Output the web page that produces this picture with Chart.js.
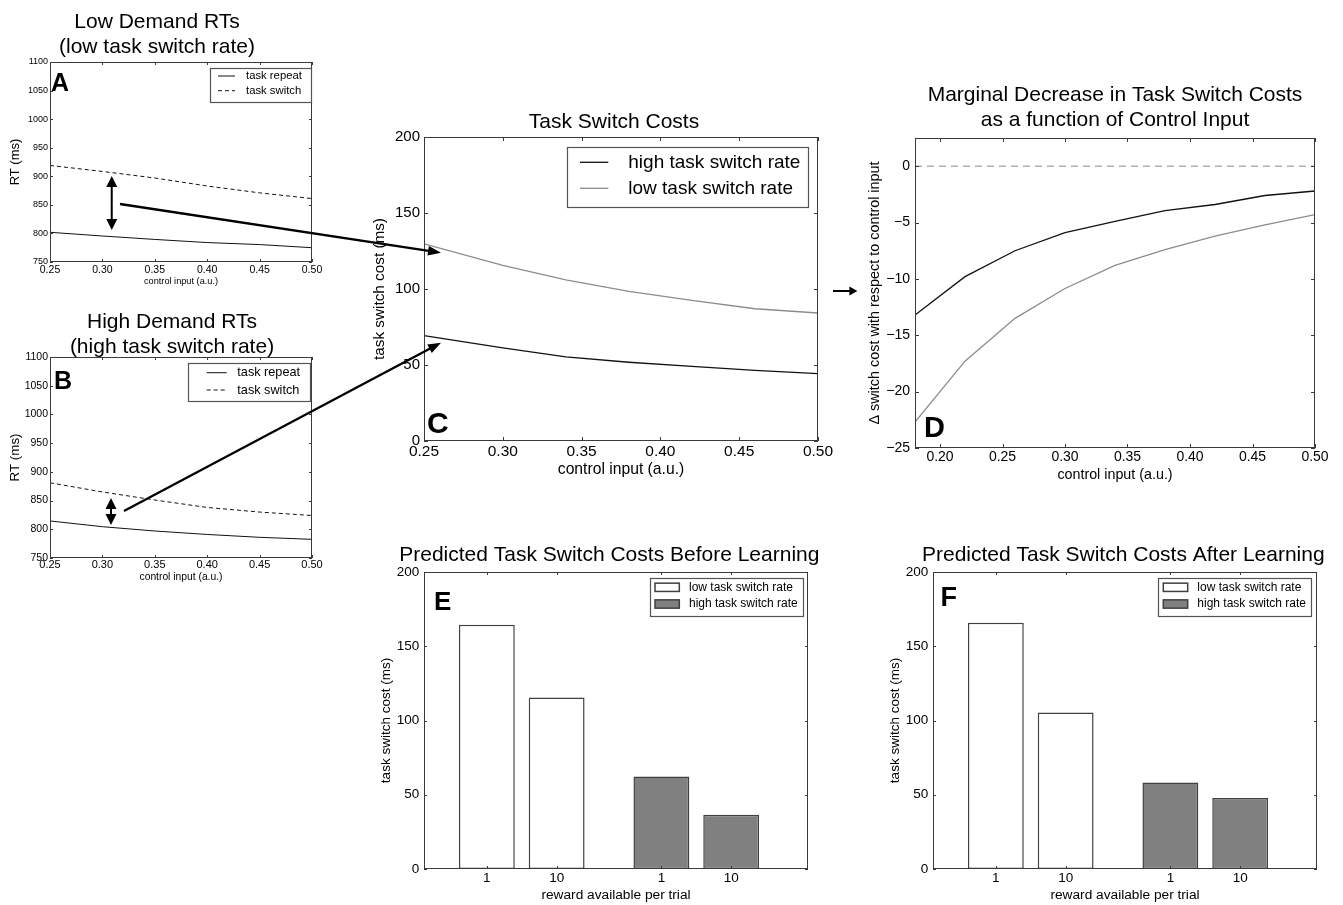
<!DOCTYPE html>
<html>
<head>
<meta charset="utf-8">
<title>Task switch costs</title>
<script src="https://cdn.jsdelivr.net/npm/chart.js@4.4.1/dist/chart.umd.min.js"></script>
<style>
  html, body { margin: 0; padding: 0; background: #fff; }
  #fig { position: relative; width: 1343px; height: 905px; overflow: hidden; background: #fff; }
  #fig canvas { position: absolute; }
</style>
</head>
<body>
<div id="fig"></div>
<script>
// ---------------- data ----------------
const rtControlInput   = [0.25, 0.30, 0.35, 0.40, 0.45, 0.50];
const lowDemandRepeat  = [802, 795.5, 789.5, 784, 780.5, 775];
const lowDemandSwitch  = [919, 908.5, 897, 883, 871, 861];
const highDemandRepeat = [814.5, 804.5, 797, 791, 786, 782.5];
const highDemandSwitch = [881, 865, 851, 838, 830, 824];
const rtTicksX = [0.25, 0.30, 0.35, 0.40, 0.45, 0.50];
const rtTicksY = [750, 800, 850, 900, 950, 1000, 1050, 1100];

const costControlInput = [0.25, 0.30, 0.34, 0.38, 0.42, 0.46, 0.50];
const costHighRate = [69.3, 61.2, 55.3, 51.8, 49.1, 46.5, 44.3];
const costLowRate  = [129.7, 115.6, 106, 98.5, 92.5, 87, 84.2];
const costTicksY = [0, 50, 100, 150, 200];

const marginalControlInput = [0.18, 0.22, 0.26, 0.30, 0.34, 0.38, 0.42, 0.46, 0.50];
const marginalHighRate = [-13.2, -9.8, -7.5, -5.9, -4.9, -3.95, -3.4, -2.6, -2.2];
const marginalLowRate  = [-22.7, -17.3, -13.5, -10.85, -8.8, -7.4, -6.2, -5.2, -4.3];
const zeroLineX = [0.18, 0.50];
const zeroLineY = [0, 0];
const marginalTicksX = [0.20, 0.25, 0.30, 0.35, 0.40, 0.45, 0.50];
const marginalTicksY = [-25, -20, -15, -10, -5, 0];

const rewardLabels = ['1', '10', '1', '10'];
const rewardPositions = [1, 2, 3.5, 4.5];
const beforeLowRate  = [164.4, 115.5];
const beforeHighRate = [62.3, 36.5];
const afterLowRate   = [165.9, 105.4];
const afterHighRate  = [58.3, 47.8];

// annotation arrows, in the data units of the named panel
const arrowLinks = [
  { from: ['A', 0.3168, 851.5], to: ['C', 0.2608, 123.9] },
  { from: ['B', 0.3206, 831.8], to: ['C', 0.2608, 64.7] }
];
const smallArrow = { from: ['C', 0.5095, 98.7], to: ['C', 0.5250, 98.7] };
const doubleArrows = [
  { panel: 'A', x: 0.3089, y1: 900.5, y2: 806 },
  { panel: 'B', x: 0.3082, y1: 854.5, y2: 807.5 }
];

// ---------------- styling ----------------
const FAMILY = "'Liberation Sans', Arial, Helvetica, sans-serif";
Chart.defaults.font.family = FAMILY;
Chart.defaults.color = '#000';
const INK = '#111';
const GREY_LINE = '#8c8c8c';
const FRAME = '#3a3a3a';
const BAR_EDGE = '#404040';
const BAR_HIGH = '#808080';

const pts = (xs, ys) => xs.map((x, i) => ({ x, y: ys[i] }));
const fmt2 = v => Number(v).toFixed(2);
const fmtInt = v => (v < 0 ? '\u2212' + Math.abs(v) : String(v));

// matplotlib-like frame with inward ticks on all four sides
const mplFrame = {
  id: 'mplFrame',
  afterDatasetsDraw(chart, args, o) {
    const { ctx, chartArea: a, scales } = chart;
    const L = o.tickLen || 4;
    ctx.save();
    ctx.strokeStyle = FRAME;
    ctx.lineWidth = 1;
    ctx.beginPath();
    scales.x.ticks.forEach(t => {
      const px = Math.round(scales.x.getPixelForValue(t.value)) + 0.5;
      ctx.moveTo(px, a.bottom); ctx.lineTo(px, a.bottom - L);
      ctx.moveTo(px, a.top); ctx.lineTo(px, a.top + L);
    });
    scales.y.ticks.forEach(t => {
      const py = Math.round(scales.y.getPixelForValue(t.value)) + 0.5;
      ctx.moveTo(a.left, py); ctx.lineTo(a.left + L, py);
      ctx.moveTo(a.right, py); ctx.lineTo(a.right - L, py);
    });
    ctx.stroke();
    ctx.strokeRect(Math.round(a.left) + 0.5, Math.round(a.top) + 0.5,
                   Math.round(a.right - a.left) - 1, Math.round(a.bottom - a.top) - 1);
    ctx.restore();
  }
};

// titles and panel letters
const mplText = {
  id: 'mplText',
  afterDraw(chart, args, o) {
    const ctx = chart.ctx, ox = o.origin[0], oy = o.origin[1];
    ctx.save();
    ctx.fillStyle = '#000';
    ctx.textAlign = 'center';
    ctx.textBaseline = 'alphabetic';
    ctx.font = o.titleSize + 'px ' + FAMILY;
    o.titleLines.forEach((line, i) => {
      ctx.fillText(line, o.titleX - ox, o.titleY + i * o.titleGap + 0.36 * o.titleSize - oy);
    });
    ctx.textAlign = 'left';
    ctx.font = 'bold ' + o.letterSize + 'px ' + FAMILY;
    ctx.fillText(o.letter, o.letterX - ox, o.letterBase - oy);
    ctx.restore();
  }
};

// boxed legend inside the axes
const mplLegend = {
  id: 'mplLegend',
  afterDraw(chart, args, o) {
    if (!o.box) return;
    const ctx = chart.ctx, ox = o.origin[0], oy = o.origin[1];
    const [x1, y1, x2, y2] = o.box;
    ctx.save();
    ctx.fillStyle = '#fff';
    ctx.fillRect(x1 - ox, y1 - oy, x2 - x1, y2 - y1);
    ctx.strokeStyle = '#555';
    ctx.lineWidth = 1.2;
    ctx.strokeRect(Math.round(x1 - ox) + 0.5, Math.round(y1 - oy) + 0.5, Math.round(x2 - x1), Math.round(y2 - y1));
    ctx.font = o.size + 'px ' + FAMILY;
    ctx.textBaseline = 'middle';
    ctx.textAlign = 'left';
    chart.data.datasets.filter(d => d.inLegend).forEach((d, i) => {
      const y = o.rows[i] - oy;
      if (o.kind === 'patch') {
        ctx.fillStyle = d.backgroundColor;
        ctx.fillRect(o.sample[0] - ox, y - o.patchH / 2, o.sample[1] - o.sample[0], o.patchH);
        ctx.strokeStyle = d.borderColor;
        ctx.lineWidth = d.borderWidth;
        ctx.strokeRect(o.sample[0] - ox, y - o.patchH / 2, o.sample[1] - o.sample[0], o.patchH);
      } else {
        ctx.strokeStyle = d.borderColor;
        ctx.lineWidth = d.borderWidth;
        ctx.setLineDash(d.borderDash || []);
        ctx.beginPath();
        ctx.moveTo(o.sample[0] - ox, y);
        ctx.lineTo(o.sample[1] - ox, y);
        ctx.stroke();
        ctx.setLineDash([]);
      }
      ctx.fillStyle = '#000';
      ctx.fillText(d.label, o.textX - ox, y);
    });
    ctx.restore();
  }
};

function makeAxis(a, size, horizontal) {
  return {
    type: 'linear', min: a.min, max: a.max, offset: false,
    grid: { display: false, drawTicks: false },
    border: { display: false },
    afterBuildTicks: s => { s.ticks = a.ticks.map(v => ({ value: v })); },
    afterFit: s => { if (horizontal) s.height = size; else s.width = size; },
    ticks: {
      autoSkip: false, maxRotation: 0, minRotation: 0,
      padding: a.tickPad, color: '#000', font: { size: a.tickSize },
      callback: a.labels ? ((v, i) => a.labels[i]) : a.fmt
    },
    title: {
      display: true, text: a.title, color: '#000', font: { size: a.titleSize },
      padding: horizontal ? { top: 0, bottom: a.titlePad } : { top: a.titlePad, bottom: 0 }
    }
  };
}

const fig = document.getElementById('fig');
const panels = {};

function buildPanel(key, spec) {
  const p = spec.plot, m = spec.margin;
  const left = p.l - m.l, top = p.t - m.t;
  const w = p.r - p.l + m.l + m.r, h = p.b - p.t + m.t + m.b;
  const canvas = document.createElement('canvas');
  canvas.width = w; canvas.height = h;
  canvas.style.left = left + 'px'; canvas.style.top = top + 'px';
  canvas.style.width = w + 'px'; canvas.style.height = h + 'px';
  fig.appendChild(canvas);
  const origin = [left, top];
  const chart = new Chart(canvas, {
    type: spec.type,
    data: { datasets: spec.datasets },
    options: {
      responsive: false, animation: false, devicePixelRatio: 1, events: [],
      layout: { padding: { left: 0, top: m.t, right: m.r, bottom: 0 } },
      scales: { x: makeAxis(spec.x, m.b, true), y: makeAxis(spec.y, m.l, false) },
      plugins: {
        legend: { display: false }, title: { display: false }, tooltip: { enabled: false },
        mplFrame: { tickLen: spec.tickLen },
        mplText: Object.assign({ origin }, spec.text),
        mplLegend: Object.assign({ origin }, spec.legend || {})
      }
    },
    plugins: [mplFrame, mplText, mplLegend]
  });
  panels[key] = { chart, origin };
}

function lineSet(label, xs, ys, color, width, dash, inLegend) {
  return { label, data: pts(xs, ys), borderColor: color, borderWidth: width, borderDash: dash || [],
           pointRadius: 0, tension: 0, fill: false, inLegend };
}
function barSet(label, xs, ys, fill) {
  return { label, data: pts(xs, ys), backgroundColor: fill, borderColor: BAR_EDGE, borderWidth: 1.5,
           borderSkipped: false, grouped: false, barPercentage: 0.8, categoryPercentage: 1, inLegend: true };
}

// ---------- Panel A ----------
buildPanel('A', {
  type: 'line', plot: { l: 50, t: 62, r: 312, b: 262 }, margin: { l: 50, t: 62, r: 20, b: 30 }, tickLen: 3,
  datasets: [
    lineSet('task repeat', rtControlInput, lowDemandRepeat, INK, 1, [], true),
    lineSet('task switch', rtControlInput, lowDemandSwitch, INK, 1, [4, 3], true)
  ],
  x: { min: 0.25, max: 0.50, ticks: rtTicksX, fmt: fmt2, tickSize: 10.5, tickPad: 1.7, title: 'control input (a.u.)', titleSize: 9.2, titlePad: 5.5 },
  y: { min: 750, max: 1100, ticks: rtTicksY, fmt: fmtInt, tickSize: 9, tickPad: 2, title: 'RT (ms)', titleSize: 13, titlePad: 7.2 },
  text: { titleLines: ['Low Demand RTs', '(low task switch rate)'], titleX: 157, titleY: 20, titleGap: 25, titleSize: 21,
          letter: 'A', letterX: 51, letterBase: 90.7, letterSize: 25 },
  legend: { box: [210, 68, 311, 102], rows: [76, 90.7], sample: [218, 235], textX: 246, size: 11.3, kind: 'line' }
});

// ---------- Panel B ----------
buildPanel('B', {
  type: 'line', plot: { l: 50, t: 357, r: 312, b: 558 }, margin: { l: 50, t: 62, r: 20, b: 30 }, tickLen: 3,
  datasets: [
    lineSet('task repeat', rtControlInput, highDemandRepeat, INK, 1, [], true),
    lineSet('task switch', rtControlInput, highDemandSwitch, INK, 1, [4, 3], true)
  ],
  x: { min: 0.25, max: 0.50, ticks: rtTicksX, fmt: fmt2, tickSize: 11, tickPad: 0, title: 'control input (a.u.)', titleSize: 10.3, titlePad: 4.8 },
  y: { min: 750, max: 1100, ticks: rtTicksY, fmt: fmtInt, tickSize: 10.5, tickPad: 2, title: 'RT (ms)', titleSize: 13.4, titlePad: 7 },
  text: { titleLines: ['High Demand RTs', '(high task switch rate)'], titleX: 172, titleY: 320.7, titleGap: 24.5, titleSize: 21,
          letter: 'B', letterX: 54, letterBase: 389.3, letterSize: 25 },
  legend: { box: [188.3, 363.3, 310.7, 401.7], rows: [372.7, 390], sample: [206.7, 226.7], textX: 237.3, size: 12.7, kind: 'line' }
});

// ---------- Panel C ----------
buildPanel('C', {
  type: 'line', plot: { l: 424, t: 137, r: 818, b: 441 }, margin: { l: 64, t: 37, r: 22, b: 40 }, tickLen: 4,
  datasets: [
    lineSet('high task switch rate', costControlInput, costHighRate, INK, 1.3, [], true),
    lineSet('low task switch rate', costControlInput, costLowRate, GREY_LINE, 1.3, [], true)
  ],
  x: { min: 0.25, max: 0.50, ticks: rtTicksX, fmt: fmt2, tickSize: 15.5, tickPad: 1.5, title: 'control input (a.u.)', titleSize: 15.7, titlePad: 1.6 },
  y: { min: 0, max: 200, ticks: costTicksY, fmt: fmtInt, tickSize: 15, tickPad: 4, title: 'task switch cost (ms)', titleSize: 15.3, titlePad: 10.8 },
  text: { titleLines: ['Task Switch Costs'], titleX: 614, titleY: 120.7, titleGap: 25, titleSize: 21,
          letter: 'C', letterX: 427, letterBase: 433, letterSize: 30 },
  legend: { box: [567.3, 146.7, 808.3, 206.7], rows: [162.3, 188.3], sample: [580, 608.3], textX: 628.3, size: 19, kind: 'line' }
});

// ---------- Panel D ----------
buildPanel('D', {
  type: 'line', plot: { l: 915, t: 138, r: 1315, b: 448 }, margin: { l: 65, t: 63, r: 22, b: 40 }, tickLen: 4,
  datasets: [
    lineSet('zero', zeroLineX, zeroLineY, GREY_LINE, 1, [7, 5], false),
    lineSet('high task switch rate', marginalControlInput, marginalHighRate, INK, 1.3, [], false),
    lineSet('low task switch rate', marginalControlInput, marginalLowRate, GREY_LINE, 1.3, [], false)
  ],
  x: { min: 0.18, max: 0.50, ticks: marginalTicksX, fmt: fmt2, tickSize: 14, tickPad: 0.6, title: 'control input (a.u.)', titleSize: 14.3, titlePad: 3.9 },
  y: { min: -25, max: 2.5, ticks: marginalTicksY, fmt: fmtInt, tickSize: 14, tickPad: 5, title: '\u0394 switch cost with respect to control input', titleSize: 14.4, titlePad: 16.4 },
  text: { titleLines: ['Marginal Decrease in Task Switch Costs', 'as a function of Control Input'], titleX: 1115, titleY: 93.5, titleGap: 25, titleSize: 21,
          letter: 'D', letterX: 924, letterBase: 436.5, letterSize: 29 }
});

// ---------- Panel E ----------
buildPanel('E', {
  type: 'bar', plot: { l: 424, t: 572, r: 808, b: 869 }, margin: { l: 54, t: 37, r: 24, b: 36 }, tickLen: 3,
  datasets: [
    barSet('low task switch rate', rewardPositions.slice(0, 2), beforeLowRate, '#ffffff'),
    barSet('high task switch rate', rewardPositions.slice(2, 4), beforeHighRate, BAR_HIGH)
  ],
  x: { min: 0.1, max: 5.6, ticks: rewardPositions, labels: rewardLabels, tickSize: 13.5, tickPad: 1.2, title: 'reward available per trial', titleSize: 13.7, titlePad: 1.1 },
  y: { min: 0, max: 200, ticks: costTicksY, fmt: fmtInt, tickSize: 13.5, tickPad: 4.7, title: 'task switch cost (ms)', titleSize: 13.5, titlePad: 8.6 },
  text: { titleLines: ['Predicted Task Switch Costs Before Learning'], titleX: 609.3, titleY: 553.3, titleGap: 25, titleSize: 21,
          letter: 'E', letterX: 434, letterBase: 610, letterSize: 26 },
  legend: { box: [650, 577.7, 802.7, 616], rows: [587.3, 604], sample: [655, 679.3], textX: 689, size: 12, kind: 'patch', patchH: 8.3 }
});

// ---------- Panel F ----------
buildPanel('F', {
  type: 'bar', plot: { l: 933, t: 572, r: 1317, b: 869 }, margin: { l: 53, t: 37, r: 24, b: 36 }, tickLen: 3,
  datasets: [
    barSet('low task switch rate', rewardPositions.slice(0, 2), afterLowRate, '#ffffff'),
    barSet('high task switch rate', rewardPositions.slice(2, 4), afterHighRate, BAR_HIGH)
  ],
  x: { min: 0.1, max: 5.6, ticks: rewardPositions, labels: rewardLabels, tickSize: 13.5, tickPad: 1.2, title: 'reward available per trial', titleSize: 13.7, titlePad: 1.1 },
  y: { min: 0, max: 200, ticks: costTicksY, fmt: fmtInt, tickSize: 13.5, tickPad: 4.7, title: 'task switch cost (ms)', titleSize: 13.5, titlePad: 6.9 },
  text: { titleLines: ['Predicted Task Switch Costs After Learning'], titleX: 1123.3, titleY: 553.3, titleGap: 25, titleSize: 21,
          letter: 'F', letterX: 940.5, letterBase: 606, letterSize: 27 },
  legend: { box: [1158.3, 577.7, 1311, 616], rows: [587.3, 604], sample: [1163.3, 1187.7], textX: 1197.3, size: 12, kind: 'patch', patchH: 8.3 }
});

// ---------- annotation arrows (overlay) ----------
const overlay = document.createElement('canvas');
overlay.width = 1343; overlay.height = 905;
overlay.style.left = '0px'; overlay.style.top = '0px';
overlay.style.width = '1343px'; overlay.style.height = '905px';
overlay.style.zIndex = 5;
fig.appendChild(overlay);
const octx = overlay.getContext('2d');
octx.fillStyle = '#000';
octx.strokeStyle = '#000';

function pagePt(key, x, y) {
  const p = panels[key];
  return [p.origin[0] + p.chart.scales.x.getPixelForValue(x), p.origin[1] + p.chart.scales.y.getPixelForValue(y)];
}
function arrowHead(tip, from, len, half) {
  const dx = tip[0] - from[0], dy = tip[1] - from[1], d = Math.hypot(dx, dy);
  const ux = dx / d, uy = dy / d;
  const bx = tip[0] - ux * len, by = tip[1] - uy * len;
  octx.beginPath();
  octx.moveTo(tip[0], tip[1]);
  octx.lineTo(bx - uy * half, by + ux * half);
  octx.lineTo(bx + uy * half, by - ux * half);
  octx.closePath();
  octx.fill();
}
function drawArrow(a, b, lw, len, half, both) {
  const dx = b[0] - a[0], dy = b[1] - a[1], d = Math.hypot(dx, dy);
  const ux = dx / d, uy = dy / d;
  const s = both ? [a[0] + ux * len * 0.7, a[1] + uy * len * 0.7] : a;
  const e = [b[0] - ux * len * 0.7, b[1] - uy * len * 0.7];
  octx.lineWidth = lw;
  octx.beginPath();
  octx.moveTo(s[0], s[1]);
  octx.lineTo(e[0], e[1]);
  octx.stroke();
  arrowHead(b, a, len, half);
  if (both) arrowHead(a, b, len, half);
}
arrowLinks.forEach(l => drawArrow(pagePt(...l.from), pagePt(...l.to), 2.3, 13, 4.8, false));
drawArrow(pagePt(...smallArrow.from), pagePt(...smallArrow.to), 2, 8, 4.5, false);
doubleArrows.forEach(d => drawArrow(pagePt(d.panel, d.x, d.y1), pagePt(d.panel, d.x, d.y2), 2, 11, 5.5, true));
</script>
</body>
</html>
